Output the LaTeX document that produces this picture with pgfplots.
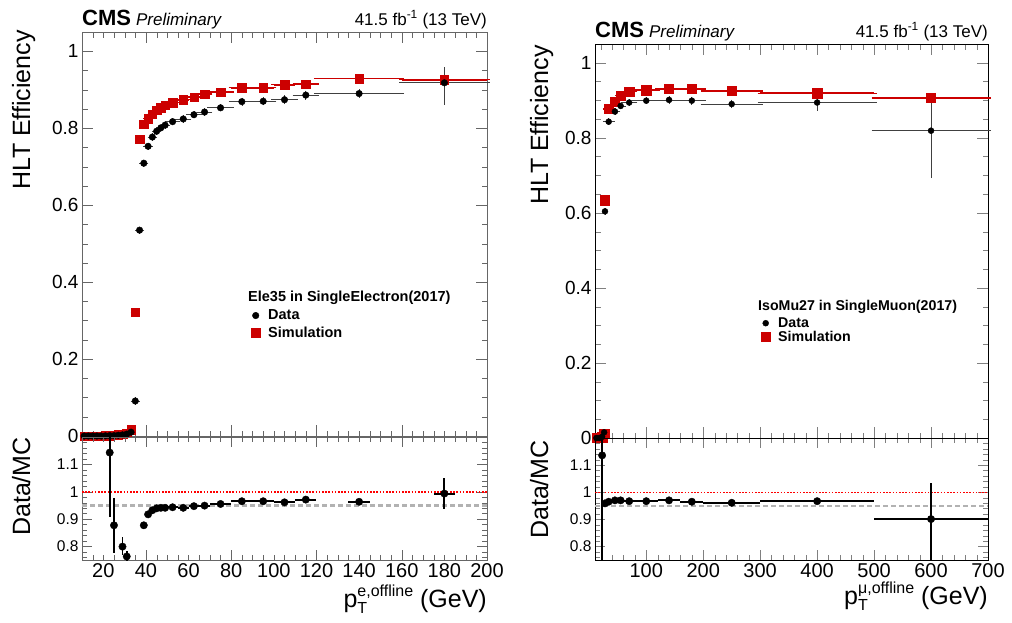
\documentclass[border=0pt]{standalone}
\usepackage{pgfplots}
\usepackage{pgfplotstable}
\pgfplotsset{compat=1.18}
\usepackage{fontspec}
\setmainfont{Liberation Sans}
\usepackage{amsmath}

\definecolor{cmsred}{HTML}{CC0000}
\colorlet{lframe}{black!60}

% electron trigger (Ele35), data
\pgfplotstableread{
x y ex eyp eym
11 0 1 0 0
13 0 1 0 0
15 0 1 0 0
17 0 1 0 0
19 0 1 0 0
21 0.0005 1 0 0
23 0.001 1 0 0
25 0.001 1 0 0
27 0.002 1 0 0
29 0.003 1 0 0
31 0.005 1 0 0
33 0.010 1 0 0
35 0.091 1 0.003 0.003
37 0.535 1 0.003 0.003
39 0.709 1 0.003 0.003
41 0.753 1 0.003 0.003
43 0.777 1 0.003 0.003
45 0.792 1 0.003 0.003
47 0.801 1 0.003 0.003
49 0.808 1 0.003 0.003
52.5 0.817 2.5 0.003 0.003
57.5 0.824 2.5 0.003 0.003
62.5 0.835 2.5 0.003 0.003
67.5 0.842 2.5 0.003 0.003
75 0.853 5 0.003 0.003
85 0.869 5 0.004 0.004
95 0.870 5 0.004 0.004
105 0.874 5 0.005 0.005
115 0.886 5 0.005 0.005
140 0.890 20 0.005 0.005
180 0.918 20 0.034 0.050
}\eledata

% electron trigger, simulation
\pgfplotstableread{
x y ex eyp eym
11 0 1 0 0
13 0 1 0 0
15 0 1 0 0
17 0 1 0 0
19 0 1 0 0
21 0.001 1 0 0
23 0.001 1 0 0
25 0.002 1 0 0
27 0.003 1 0 0
29 0.004 1 0 0
31 0.007 1 0 0
33 0.016 1 0 0
35 0.322 1 0 0
37 0.772 1 0 0
39 0.811 1 0 0
41 0.825 1 0 0
43 0.837 1 0 0
45 0.846 1 0 0
47 0.853 1 0 0
49 0.859 1 0 0
52.5 0.866 2.5 0 0
57.5 0.874 2.5 0 0
62.5 0.881 2.5 0 0
67.5 0.889 2.5 0 0
75 0.894 5 0 0
85 0.905 5 0 0
95 0.905 5 0 0
105 0.913 5 0 0
115 0.915 5 0 0
140 0.929 20 0.003 0.003
180 0.926 20 0.020 0.020
}\elesim

% electron trigger, data/MC
\pgfplotstableread{
x y ex eyp eym
23 1.143 1 0.200 0.237
25 0.877 1 0.100 0.100
29 0.799 1 0.035 0.030
31 0.763 1 0.020 0.020
39 0.877 1 0.005 0.005
41 0.917 1 0.004 0.004
43 0.932 1 0.003 0.003
45 0.939 1 0.003 0.003
47 0.941 1 0.003 0.003
49 0.941 1 0.003 0.003
52.5 0.943 2.5 0.003 0.003
57.5 0.941 2.5 0.003 0.003
62.5 0.947 2.5 0.004 0.004
67.5 0.949 2.5 0.004 0.004
75 0.955 5 0.004 0.004
85 0.965 5 0.004 0.004
95 0.965 5 0.005 0.005
105 0.961 5 0.006 0.006
115 0.971 5 0.006 0.006
140 0.963 5 0.006 0.006
180 0.993 5 0.056 0.058
}\eleratio

% muon trigger (IsoMu27), data
\pgfplotstableread{
x y ex eyp eym
12.5 0 2.5 0 0
17.5 0 2.5 0 0
22.5 0.003 2.5 0 0
26 0.015 1 0 0
27.5 0.604 0.5 0.002 0.002
34 0.843 6 0.002 0.002
45 0.870 5 0.002 0.002
55 0.885 5 0.002 0.002
70 0.894 10 0.002 0.002
100 0.899 20 0.002 0.002
140 0.901 20 0.003 0.003
180 0.899 20 0.004 0.004
250 0.890 50 0.005 0.005
400 0.894 100 0.015 0.015
600 0.819 100 0.082 0.120
}\mudata

% muon trigger, simulation
\pgfplotstableread{
x y ex eyp eym
12.5 0 2.5 0 0
17.5 0 2.5 0 0
22.5 0.002 2.5 0 0
26 0.012 1 0 0
27.5 0.634 0.5 0 0
34 0.877 6 0 0
45 0.897 5 0 0
55 0.912 5 0 0
70 0.923 10 0 0
100 0.927 20 0 0
140 0.930 20 0 0
180 0.930 20 0 0
250 0.925 50 0 0
400 0.919 100 0 0
600 0.906 100 0 0
}\musim

% muon trigger, data/MC
\pgfplotstableread{
x y ex eyp eym
22.5 1.136 2.5 0.5 0.5
27.5 0.959 0.5 0.005 0.005
34 0.965 6 0.003 0.003
45 0.970 5 0.002 0.002
55 0.970 5 0.002 0.002
70 0.967 10 0.002 0.002
100 0.967 20 0.002 0.002
140 0.970 20 0.003 0.003
180 0.965 20 0.004 0.004
250 0.961 50 0.005 0.005
400 0.967 100 0.010 0.010
600 0.901 100 0.132 0.200
}\muratio

\pgfplotsset{
  cmsaxis/.style={
    scale only axis, anchor=south west, tick align=inside,
    /pgf/number format/assume math mode=true,
    major tick length=11pt, minor tick length=5.5pt,
    xticklabel style={font=\fontsize{20}{20}\selectfont},
    yticklabel style={font=\fontsize{19}{19}\selectfont},
  },
  mainaxis/.style={cmsaxis, clip=false, ymin=0, ymax=1.05,
    ytick={0,0.2,0.4,0.6,0.8,1},
    minor ytick={0.05,0.1,0.15,0.25,0.3,0.35,0.45,0.5,0.55,0.65,0.7,0.75,0.85,0.9,0.95,1.05},
    xticklabels={},
  },
  ratioaxis/.style={cmsaxis, ymin=0.75, ymax=1.2,
    ytick={0.8,0.9,1,1.1},
    minor ytick={0.76,0.78,0.82,0.84,0.86,0.88,0.92,0.94,0.96,0.98,1.02,1.04,1.06,1.08,1.12,1.14,1.16,1.18},
    yticklabel style={font=\fontsize{15.5}{15.5}\selectfont},
    major tick length=10pt, minor tick length=5pt,
  },
  legstyle/.style={legend style={draw=none, fill=none, inner sep=0pt,
    font=\bfseries\fontsize{14.5}{14.5}\selectfont, row sep=2pt,
    nodes={inner sep=1.5pt}}, legend cell align=left,
    legend image code/.code={%
      \path[draw=none, fill=none] (-6pt,-4pt) rectangle (11pt,4pt);
      \draw[##1] plot coordinates {(0pt,0pt)};}},
  errs/.style={error bars/x dir=both, error bars/x explicit,
    error bars/y dir=both, error bars/y explicit},
  datapts/.style={only marks, mark=*, mark size=3.3pt, color=black, errs,
    error bars/error bar style={line width=0.7pt, black!75},
    error bars/error mark options={line width=0.7pt, black!75, mark size=2.5pt}},
  simpts/.style={only marks, mark=square*, mark size=4.2pt, color=cmsred, errs,
    error bars/error bar style={line width=1.6pt, cmsred},
    error bars/error mark options={line width=1.2pt, cmsred, mark size=2.5pt}},
  ratiopts/.style={only marks, mark=*, mark size=3.7pt, color=black, errs,
    error bars/error bar style={line width=1.9pt, black},
    error bars/error mark=none},
  oneline/.style={red, line width=1.8pt, dash pattern=on 1.6pt off 1.6pt},
  refline/.style={black!30, line width=2.5pt, dash pattern=on 5pt off 3pt},
}

% axis title for pT with ROOT-like placement of sub- and superscript
\newcommand{\ptlabel}[1]{p{\fontsize{16}{16}\selectfont\rlap{\raisebox{-6pt}{T}}\raisebox{11pt}{#1}}\ (GeV)}

\begin{document}
\begin{tikzpicture}
\useasboundingbox (0pt,0pt) rectangle (1012pt,-622pt);

% ---------- left: electron ----------
\begin{axis}[mainaxis, legstyle, at={(82pt,-436pt)}, width=405pt, height=404pt,
  axis line style={lframe}, tick style={lframe},
  xmin=10, xmax=200,
  xtick={40,80,120,160,200}, minor xtick={10,15,...,200},
  extra x ticks={20,60,100,140,180}, extra x tick labels={},
  extra x tick style={major tick length=5.5pt},
  legend style={at={(0.4136,0.3166)}, anchor=north west, row sep=2.5pt}]
\addlegendimage{only marks, mark=*, mark size=3.3pt, black}
\addlegendentry{Data}
\addlegendimage{only marks, mark=square*, mark size=4.2pt, cmsred}
\addlegendentry{Simulation}
\addplot[simpts, forget plot] table[x=x, y=y, x error=ex, y error plus=eyp, y error minus=eym] {\elesim};
\addplot[datapts, forget plot] table[x=x, y=y, x error=ex, y error plus=eyp, y error minus=eym] {\eledata};
\end{axis}

\begin{axis}[ratioaxis, at={(82pt,-560pt)}, width=405pt, height=123pt,
  axis line style={lframe}, tick style={lframe},
  xmin=10, xmax=200,
  xtick={40,80,120,160,200}, minor xtick={10,15,...,200},
  extra x ticks={20,60,100,140,180},
  extra x tick style={major tick length=5pt}]
\addplot[oneline] coordinates {(10,1) (200,1)};
\addplot[refline] coordinates {(10,0.95) (200,0.95)};
\addplot[ratiopts] table[x=x, y=y, x error=ex, y error plus=eyp, y error minus=eym] {\eleratio};
\end{axis}

% ---------- right: muon ----------
\begin{axis}[mainaxis, legstyle, at={(595pt,-438pt)}, width=393pt, height=394pt,
  xmin=10, xmax=700,
  xtick={100,200,...,700}, minor xtick={20,40,...,700},
  legend style={at={(0.4186,0.310)}, anchor=north west, row sep=-1pt,
    font=\bfseries\fontsize{14.2}{14.2}\selectfont}]
\addlegendimage{only marks, mark=*, mark size=3pt, black}
\addlegendentry{Data}
\addlegendimage{only marks, mark=square*, mark size=4.3pt, cmsred}
\addlegendentry{Simulation}
\addplot[simpts, mark size=4.6pt, forget plot] table[x=x, y=y, x error=ex, y error plus=eyp, y error minus=eym] {\musim};
\addplot[datapts, mark size=3pt, forget plot] table[x=x, y=y, x error=ex, y error plus=eyp, y error minus=eym] {\mudata};
\end{axis}

\begin{axis}[ratioaxis, at={(595pt,-560pt)}, width=393pt, height=122pt,
  xmin=10, xmax=700,
  xtick={100,200,...,700}, minor xtick={20,40,...,700}]
\addplot[oneline, line width=1.4pt] coordinates {(10,1) (700,1)};
\addplot[refline] coordinates {(10,0.95) (700,0.95)};
\addplot[ratiopts] table[x=x, y=y, x error=ex, y error plus=eyp, y error minus=eym] {\muratio};
\end{axis}

% ---------- titles, axis titles, legend headers ----------
\node[anchor=base west, inner sep=0] at (82pt,-25pt)
  {{\fontsize{22}{22}\selectfont\bfseries CMS}\hspace{5pt}{\fontsize{17}{17}\selectfont\itshape Preliminary}};
\node[anchor=base east, inner sep=0] at (487pt,-25pt)
  {\fontsize{17}{17}\selectfont 41.5 fb\textsuperscript{-1} (13 TeV)};
\node[anchor=base west, inner sep=0] at (595pt,-37pt)
  {{\fontsize{22}{22}\selectfont\bfseries CMS}\hspace{5pt}{\fontsize{17}{17}\selectfont\itshape Preliminary}};
\node[anchor=base east, inner sep=0] at (988pt,-37pt)
  {\fontsize{17}{17}\selectfont 41.5 fb\textsuperscript{-1} (13 TeV)};

\node[rotate=90, anchor=base east, inner sep=0, font=\fontsize{25}{25}\selectfont] at (30pt,-30pt) {HLT Efficiency};
\node[rotate=90, anchor=base east, inner sep=0, font=\fontsize{25}{25}\selectfont] at (30pt,-437pt) {Data/MC};
\node[rotate=90, anchor=base east, inner sep=0, font=\fontsize{25}{25}\selectfont] at (548pt,-45pt) {HLT Efficiency};
\node[rotate=90, anchor=base east, inner sep=0, font=\fontsize{25}{25}\selectfont] at (548pt,-440pt) {Data/MC};

\node[anchor=base east, inner sep=0, font=\fontsize{25}{25}\selectfont] at (487pt,-607pt)
  {\ptlabel{e,offline}};
\node[anchor=base east, inner sep=0, font=\fontsize{25}{25}\selectfont] at (988pt,-604pt)
  {\ptlabel{μ,offline}};

\node[anchor=west, inner sep=0, font=\bfseries\fontsize{14.5}{14.5}\selectfont] at (248pt,-298pt)
  {Ele35 in SingleElectron(2017)};
\node[anchor=west, inner sep=0, font=\bfseries\fontsize{14.2}{14.2}\selectfont] at (758pt,-307pt)
  {IsoMu27 in SingleMuon(2017)};
\end{tikzpicture}
\end{document}
